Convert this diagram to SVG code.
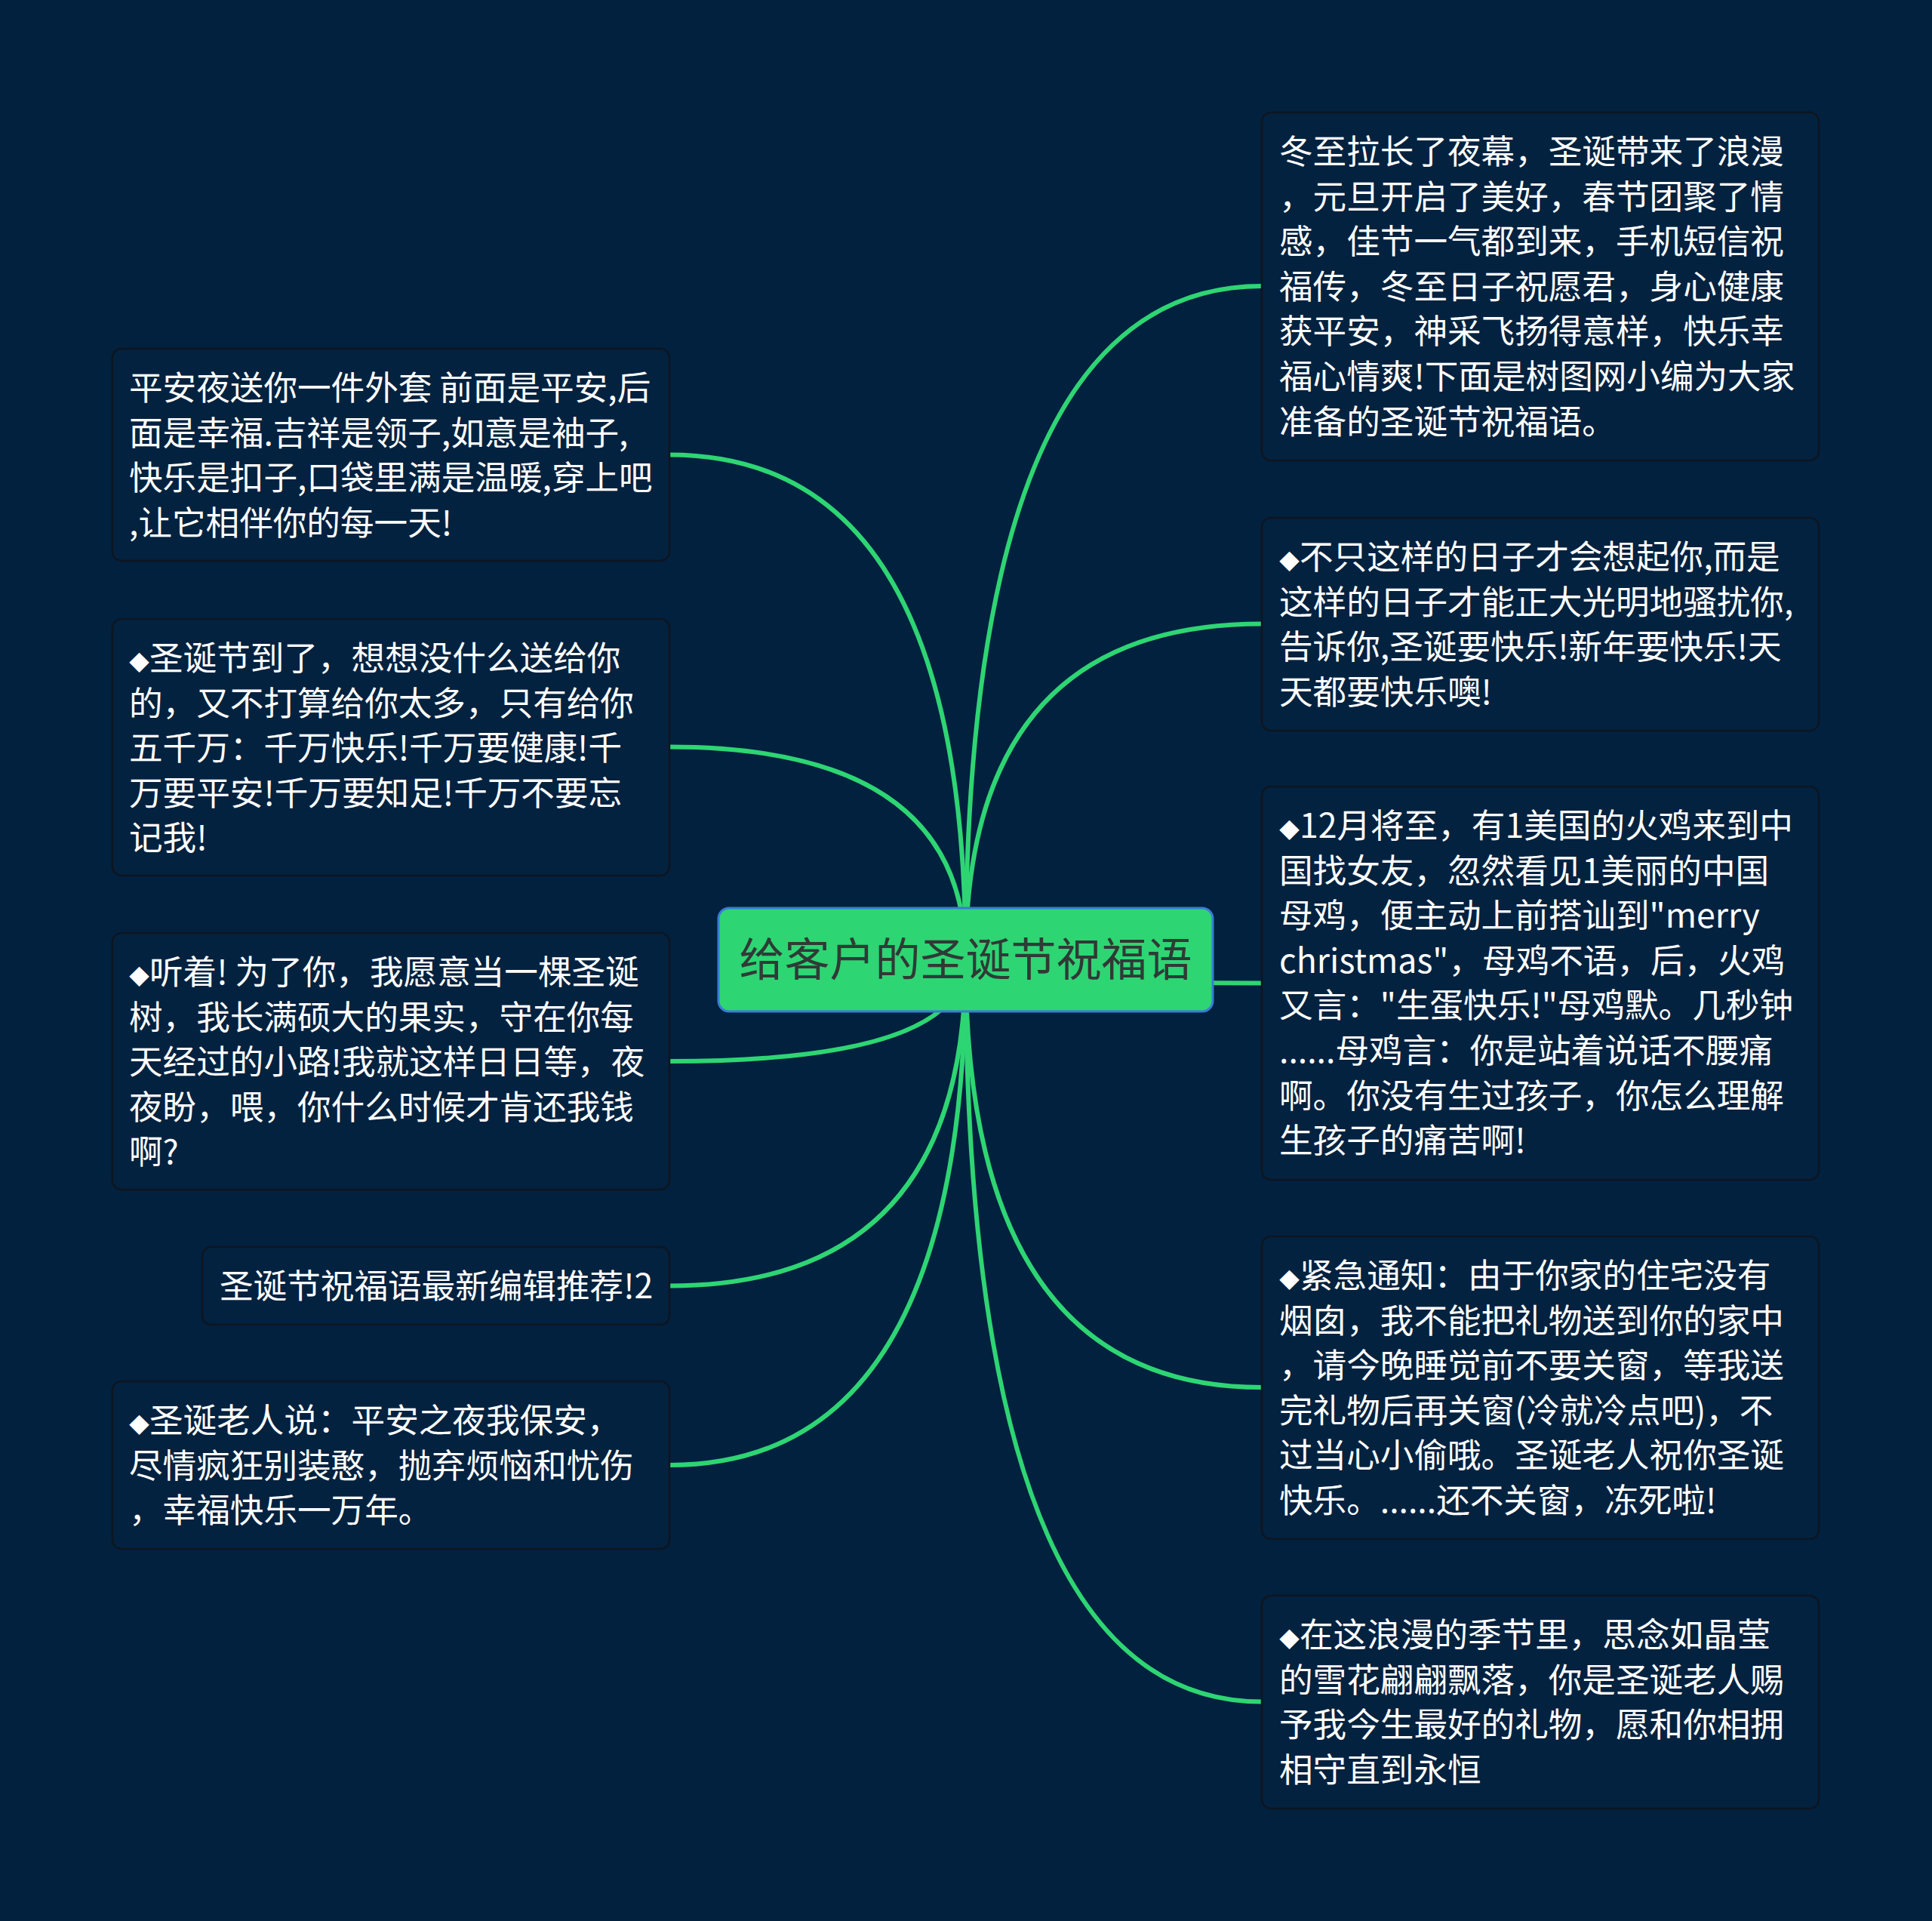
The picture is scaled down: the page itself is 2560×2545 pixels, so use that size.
<svg xmlns="http://www.w3.org/2000/svg" width="2560" height="2545" viewBox="0 0 2560 2545">
<style>
.bg{fill:#02213f}
.box{fill:#03223f;stroke:#0d1620;stroke-width:2.5}
.t{font-family:"Microsoft YaHei","Noto Sans CJK SC","Noto Sans",sans-serif;font-size:44.6px;fill:#ffffff}
.dm{font-size:27px}
.link{fill:none;stroke:#2ed573;stroke-width:6;stroke-linecap:round}
.root{fill:#2ed573;stroke:#3a7bd5;stroke-width:3}
.rt{font-family:"Microsoft YaHei","Noto Sans CJK SC","Noto Sans",sans-serif;font-size:60px;fill:#2f3a36}
</style>
<rect class="bg" x="0" y="0" width="2560" height="2545"/>
<g id="connectors">
<path class="link" d="M1279.5 1271.5 Q1279.5 379 1672 379"/>
<path class="link" d="M1279.5 1271.5 Q1279.5 826.5 1672 826.5"/>
<path class="link" d="M1279.5 1271.5 Q1279.5 1302.5 1672 1302.5"/>
<path class="link" d="M1279.5 1271.5 Q1279.5 1838 1672 1838"/>
<path class="link" d="M1279.5 1271.5 Q1279.5 2254.5 1672 2254.5"/>
<path class="link" d="M1279.5 1271.5 Q1279.5 602.5 887 602.5"/>
<path class="link" d="M1279.5 1271.5 Q1279.5 989.5 887 989.5"/>
<path class="link" d="M1279.5 1271.5 Q1279.5 1406 887 1406"/>
<path class="link" d="M1279.5 1271.5 Q1279.5 1703.5 887 1703.5"/>
<path class="link" d="M1279.5 1271.5 Q1279.5 1941 887 1941"/>
</g>
<g id="root">
<rect class="root" x="952" y="1203" width="655" height="137" rx="14"/>
<text class="rt" x="1279.5" y="1293" text-anchor="middle">给客户的圣诞节祝福语</text>
</g>
<g id="r1">
<rect class="box" x="1672" y="149" width="738" height="461" rx="12"/>
<text class="t" x="1695" y="217"><tspan x="1695">冬至拉长了夜幕，圣诞带来了浪漫</tspan><tspan x="1695" dy="59.6">，元旦开启了美好，春节团聚了情</tspan><tspan x="1695" dy="59.6">感，佳节一气都到来，手机短信祝</tspan><tspan x="1695" dy="59.6">福传，冬至日子祝愿君，身心健康</tspan><tspan x="1695" dy="59.6">获平安，神采飞扬得意样，快乐幸</tspan><tspan x="1695" dy="59.6">福心情爽!下面是树图网小编为大家</tspan><tspan x="1695" dy="59.6">准备的圣诞节祝福语。</tspan></text>
</g>
<g id="r2">
<rect class="box" x="1672" y="686" width="738" height="282" rx="12"/>
<text class="t" x="1695" y="754"><tspan x="1695"><tspan class="dm">◆</tspan>不只这样的日子才会想起你,而是</tspan><tspan x="1695" dy="59.6">这样的日子才能正大光明地骚扰你,</tspan><tspan x="1695" dy="59.6">告诉你,圣诞要快乐!新年要快乐!天</tspan><tspan x="1695" dy="59.6">天都要快乐噢!</tspan></text>
</g>
<g id="r3">
<rect class="box" x="1672" y="1042" width="738" height="521" rx="12"/>
<text class="t" x="1695" y="1110"><tspan x="1695"><tspan class="dm">◆</tspan>12月将至，有1美国的火鸡来到中</tspan><tspan x="1695" dy="59.6">国找女友，忽然看见1美丽的中国</tspan><tspan x="1695" dy="59.6">母鸡，便主动上前搭讪到"merry</tspan><tspan x="1695" dy="59.6">christmas"，母鸡不语，后，火鸡</tspan><tspan x="1695" dy="59.6">又言："生蛋快乐!"母鸡默。几秒钟</tspan><tspan x="1695" dy="59.6">......母鸡言：你是站着说话不腰痛</tspan><tspan x="1695" dy="59.6">啊。你没有生过孩子，你怎么理解</tspan><tspan x="1695" dy="59.6">生孩子的痛苦啊!</tspan></text>
</g>
<g id="r4">
<rect class="box" x="1672" y="1638" width="738" height="401" rx="12"/>
<text class="t" x="1695" y="1706"><tspan x="1695"><tspan class="dm">◆</tspan>紧急通知：由于你家的住宅没有</tspan><tspan x="1695" dy="59.6">烟囱，我不能把礼物送到你的家中</tspan><tspan x="1695" dy="59.6">，请今晚睡觉前不要关窗，等我送</tspan><tspan x="1695" dy="59.6">完礼物后再关窗(冷就冷点吧)，不</tspan><tspan x="1695" dy="59.6">过当心小偷哦。圣诞老人祝你圣诞</tspan><tspan x="1695" dy="59.6">快乐。......还不关窗，冻死啦!</tspan></text>
</g>
<g id="r5">
<rect class="box" x="1672" y="2114" width="738" height="282" rx="12"/>
<text class="t" x="1695" y="2182"><tspan x="1695"><tspan class="dm">◆</tspan>在这浪漫的季节里，思念如晶莹</tspan><tspan x="1695" dy="59.6">的雪花翩翩飘落，你是圣诞老人赐</tspan><tspan x="1695" dy="59.6">予我今生最好的礼物，愿和你相拥</tspan><tspan x="1695" dy="59.6">相守直到永恒</tspan></text>
</g>
<g id="l1">
<rect class="box" x="149" y="462" width="738" height="281" rx="12"/>
<text class="t" x="171" y="530"><tspan x="171">平安夜送你一件外套 前面是平安,后</tspan><tspan x="171" dy="59.6">面是幸福.吉祥是领子,如意是袖子,</tspan><tspan x="171" dy="59.6">快乐是扣子,口袋里满是温暖,穿上吧</tspan><tspan x="171" dy="59.6">,让它相伴你的每一天!</tspan></text>
</g>
<g id="l2">
<rect class="box" x="149" y="820" width="738" height="340" rx="12"/>
<text class="t" x="171" y="888"><tspan x="171"><tspan class="dm">◆</tspan>圣诞节到了，想想没什么送给你</tspan><tspan x="171" dy="59.6">的，又不打算给你太多，只有给你</tspan><tspan x="171" dy="59.6">五千万：千万快乐!千万要健康!千</tspan><tspan x="171" dy="59.6">万要平安!千万要知足!千万不要忘</tspan><tspan x="171" dy="59.6">记我!</tspan></text>
</g>
<g id="l3">
<rect class="box" x="149" y="1236" width="738" height="340" rx="12"/>
<text class="t" x="171" y="1304"><tspan x="171"><tspan class="dm">◆</tspan>听着! 为了你，我愿意当一棵圣诞</tspan><tspan x="171" dy="59.6">树，我长满硕大的果实，守在你每</tspan><tspan x="171" dy="59.6">天经过的小路!我就这样日日等，夜</tspan><tspan x="171" dy="59.6">夜盼，喂，你什么时候才肯还我钱</tspan><tspan x="171" dy="59.6">啊?</tspan></text>
</g>
<g id="l4">
<rect class="box" x="268" y="1652" width="619" height="103" rx="12"/>
<text class="t" x="291" y="1720">圣诞节祝福语最新编辑推荐!2</text>
</g>
<g id="l5">
<rect class="box" x="149" y="1830" width="738" height="222" rx="12"/>
<text class="t" x="171" y="1898"><tspan x="171"><tspan class="dm">◆</tspan>圣诞老人说：平安之夜我保安，</tspan><tspan x="171" dy="59.6">尽情疯狂别装憨，抛弃烦恼和忧伤</tspan><tspan x="171" dy="59.6">，幸福快乐一万年。</tspan></text>
</g>
</svg>
